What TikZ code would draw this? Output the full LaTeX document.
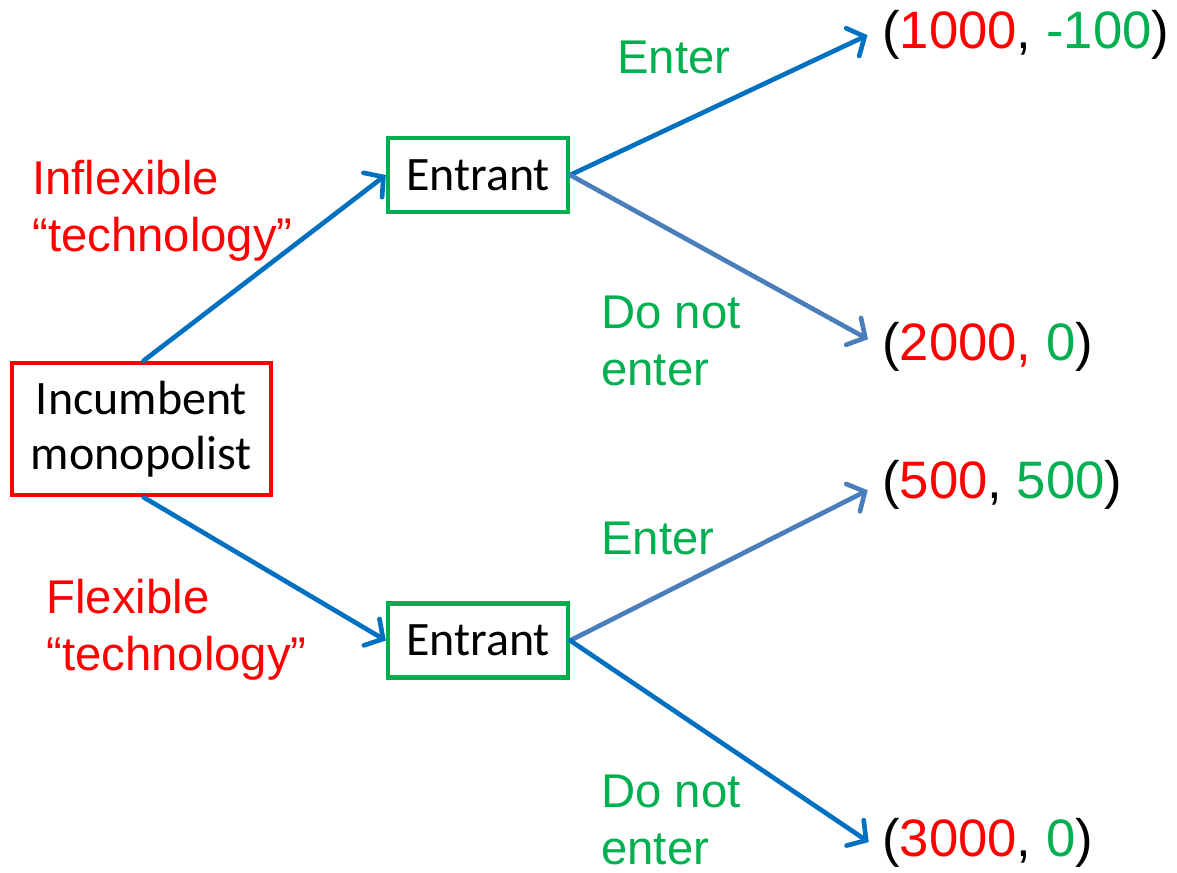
\documentclass[tikz,border=0pt]{standalone}
\usepackage{fontspec}
\setmainfont{Liberation Sans}
\newfontfamily\boxfont{Carlito}
\usetikzlibrary{arrows.meta}
\definecolor{tred}{HTML}{FF0000}
\definecolor{tgreen}{HTML}{00B050}
\definecolor{darkarrow}{HTML}{0070C0}
\definecolor{lightarrow}{HTML}{4A7EBB}
\tikzset{
  player/.style={draw, line width=3.3pt, inner sep=0pt, align=center,
    font=\boxfont\fontsize{36}{41.5}\selectfont},
  incumbent/.style={player, draw=tred, minimum width=194pt, minimum height=99pt},
  entrant/.style={player, draw=tgreen, minimum width=135pt, minimum height=55.5pt},
  choice/.style={inner sep=0pt, align=left, anchor=west,
    font=\fontsize{35.5}{43}\selectfont},
  payoff/.style={inner sep=0pt, anchor=west, font=\fontsize{39.5}{46}\selectfont},
  move/.style={line width=3.5pt, line cap=round,
    -{Straight Barb[length=10pt,width=23pt,line cap=round]}},
  movedark/.style={move, draw=darkarrow},
  movelight/.style={move, draw=lightarrow},
}
\begin{document}
\begin{tikzpicture}[x=0.75pt,y=-0.75pt]
\useasboundingbox (0,0) rectangle (1177,872);

% players
\node[incumbent] (inc) at (141.5,429) {Incumbent\\monopolist};
\node[entrant] (e1) at (478,175) {Entrant};
\node[entrant] (e2) at (478,640.5) {Entrant};

% terminal payoffs
\node[payoff] (p1) at (882,35) {(\textcolor{tred}{1000}, \textcolor{tgreen}{-100})};
\node[payoff] (p2) at (882,347) {(\textcolor{tred}{2000,} \textcolor{tgreen}{0})};
\node[payoff] (p3) at (882,485) {(\textcolor{tred}{500}, \textcolor{tgreen}{500})};
\node[payoff] (p4) at (882,843) {(\textcolor{tred}{3000}, \textcolor{tgreen}{0})};

% incumbent's choice of technology
\draw[movedark] ([xshift=1.5pt]inc.north) -- (e1.west);
\draw[movedark] ([xshift=1.5pt]inc.south) -- (e2.west);

% entrant's choices
\draw[movedark]  (e1.east) -- ([yshift=5pt]p1.west) [shorten >=12pt];
\draw[movelight] (e1.east) -- (p2.west) [shorten >=12pt];
\draw[movelight] (e2.east) -- ([yshift=1.5pt]p3.west) [shorten >=12pt];
\draw[movedark]  (e2.east) -- ([yshift=-6pt]p4.west) [shorten >=12pt];

% branch labels
\node[choice, text=tred] (l1) at (32,211) {Inflexible\\“technology”};
\node[choice, text=tred] (l2) at (46,630) {Flexible\\“technology”};
\node[choice, text=tgreen] (l3) at (617,57) {Enter};
\node[choice, text=tgreen] (l4) at (601,341) {Do not\\enter};
\node[choice, text=tgreen] (l5) at (601,538) {Enter};
\node[choice, text=tgreen] (l6) at (601,820) {Do not\\enter};
\end{tikzpicture}
\end{document}
